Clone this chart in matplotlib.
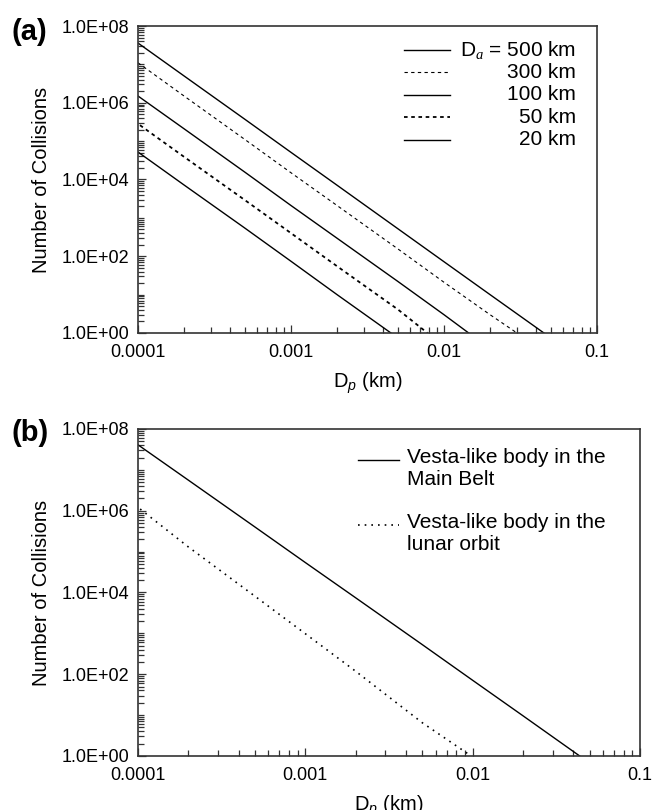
import matplotlib
matplotlib.use('Agg')
from matplotlib import pyplot as plt
from matplotlib import ticker
import numpy as np

plt.rcParams['font.family'] = ['Liberation Sans', 'DejaVu Sans']
plt.rcParams['mathtext.fontset'] = 'custom'
plt.rcParams['mathtext.rm'] = 'Liberation Sans'
plt.rcParams['mathtext.it'] = 'Liberation Serif:italic'
plt.rcParams['mathtext.sf'] = 'Liberation Sans:italic'

# panel (a): collisions vs projectile size for several target sizes
dp_500 = [1e-4, 2e-4, 5e-4, 1e-3, 2e-3, 5e-3, 1e-2, 2e-2, 0.045]
n_500 = [3.6e7, 5.0e6, 3.7e5, 5.1e4, 7.1e3, 5.2e2, 72, 10, 1]
dp_300 = [1e-4, 2e-4, 5e-4, 1e-3, 2e-3, 5e-3, 1e-2, 2e-2, 0.030]
n_300 = [1.1e7, 1.5e6, 1.1e5, 1.5e4, 2.1e3, 155, 21, 3.0, 1]
dp_100 = [1e-4, 2e-4, 5e-4, 1e-3, 2e-3, 5e-3, 1e-2, 0.0145]
n_100 = [1.5e6, 2.1e5, 1.55e4, 2.1e3, 295, 22, 3.0, 1]
dp_50 = [1.03e-4, 2e-4, 5e-4, 1e-3, 2e-3, 5e-3, 0.0078]
n_50 = [2.6e5, 3.9e4, 2.9e3, 400, 55, 4.1, 1]
dp_20 = [1e-4, 2e-4, 5e-4, 1e-3, 2e-3, 0.0045]
n_20 = [5.2e4, 7.2e3, 540, 74, 10, 1]

labels_a = ['D$_{a}$ = 500 km', '300 km', '100 km', '50 km', '20 km']

# panel (b): Vesta-like body
dp_belt = [1e-4, 2e-4, 5e-4, 1e-3, 2e-3, 5e-3, 1e-2, 2e-2, 0.0436]
n_belt = [4.1e7, 5.6e6, 4.0e5, 5.4e4, 7.4e3, 5.3e2, 71, 9.6, 1]
dp_lunar = [1.03e-4, 2e-4, 5e-4, 1e-3, 2e-3, 5e-3, 0.0098]
n_lunar = [1.1e6, 1.3e5, 8.1e3, 980, 118, 6.5, 1]

labels_b = ['Vesta-like body in the\nMain Belt', 'Vesta-like body in the\nlunar orbit']

xticks = [1e-4, 1e-3, 1e-2, 1e-1]
xticklabels = ['0.0001', '0.001', '0.01', '0.1']

fig = plt.figure(figsize=(6.53, 8.10), dpi=100)
axA = fig.add_axes([0.2113, 0.5889, 0.7029, 0.379])
axB = fig.add_axes([0.2113, 0.0667, 0.7688, 0.4037])

styles_a = [
    dict(ls='-', lw=1.0),
    dict(ls=(0, (3, 3)), lw=0.8),
    dict(ls='-', lw=1.0),
    dict(ls=(0, (2, 2)), lw=1.3),
    dict(ls='-', lw=1.0),
]
series_a = [(dp_500, n_500), (dp_300, n_300), (dp_100, n_100), (dp_50, n_50), (dp_20, n_20)]
for (xs, ys), st in zip(series_a, styles_a):
    axA.plot(xs, ys, color='black', **st)

styles_b = [dict(ls='-', lw=1.0), dict(ls=(0, (1, 3)), lw=1.2)]
axB.plot(dp_belt, n_belt, color='black', **styles_b[0])
axB.plot(dp_lunar, n_lunar, color='black', **styles_b[1])

for ax in [axA, axB]:
    ax.set_xscale('log')
    ax.set_yscale('log')
    ax.set_xlim(1e-4, 1e-1)
    ax.set_ylim(1, 1e8)
    ax.set_xticks(xticks)
    ax.set_xticklabels(xticklabels)
    ax.xaxis.set_minor_locator(ticker.LogLocator(base=10, subs=np.arange(2, 10)))
    ax.xaxis.set_minor_formatter(ticker.NullFormatter())
    ax.yaxis.set_major_locator(ticker.LogLocator(base=100))
    ax.yaxis.set_minor_locator(ticker.LogLocator(base=10, subs=np.arange(1, 10), numticks=20))
    ax.yaxis.set_minor_formatter(ticker.NullFormatter())
    ax.yaxis.set_major_formatter(ticker.FuncFormatter(lambda v, p: f'{v:.1E}'))
    ax.tick_params(which='both', direction='in', labelsize=13, color='#333333', width=0.9)
    ax.tick_params(which='major', length=6, pad=6)
    ax.tick_params(which='minor', length=4.5)
    ax.tick_params(axis='x', which='major', pad=8)
    for s in ax.spines.values():
        s.set_color('#333333')
        s.set_linewidth(1.2)
    ax.set_ylabel('Number of Collisions', fontsize=14.5, labelpad=8)
    ax.set_xlabel(r'D$_\mathsf{p}$ (km)', fontsize=14.5, labelpad=7)

# legend (a), labels right aligned
rows_a = [0.922, 0.849, 0.776, 0.703, 0.630]
for y, st, lab in zip(rows_a, styles_a, labels_a):
    axA.plot([0.5795, 0.680], [y, y], color='black', transform=axA.transAxes, **st)
    axA.text(0.954, y, lab, transform=axA.transAxes, ha='right', va='center', fontsize=15)

# legend (b)
rows_b = [0.905, 0.706]
for y, st, lab in zip(rows_b, styles_b, labels_b):
    axB.plot([0.438, 0.520], [y, y], color='black', transform=axB.transAxes, **st)
    axB.text(0.536, y + 0.036, lab, transform=axB.transAxes, ha='left', va='top',
             fontsize=15, linespacing=1.2)

fig.text(0.018, 0.960, '(a)', fontsize=21, fontweight='bold', va='center')
fig.text(0.018, 0.465, '(b)', fontsize=21, fontweight='bold', va='center')

fig.savefig('out.png', dpi=100)
